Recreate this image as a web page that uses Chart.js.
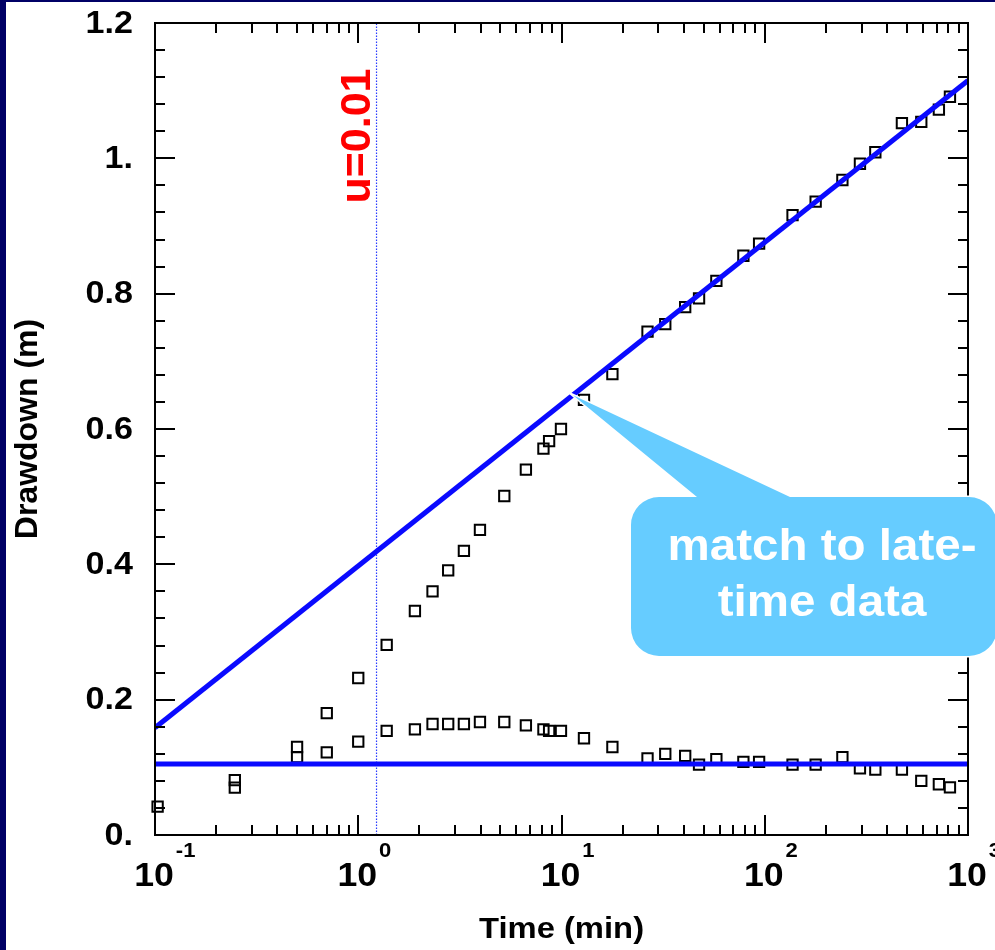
<!DOCTYPE html>
<html>
<head>
<meta charset="utf-8">
<script src="https://cdn.jsdelivr.net/npm/chart.js@4.4.1/dist/chart.umd.min.js"></script>
<style>
  html, body { margin: 0; padding: 0; background: #ffffff; }
  canvas { display: block; }
</style>
</head>
<body>
<canvas id="chart" width="995" height="950"></canvas>
<script>
// Pumping-test record: observed drawdown and its log-time derivative (m)
const times = [0.103, 0.247, 0.5, 0.7, 1.0, 1.38, 1.9, 2.32, 2.77, 3.31, 3.97, 5.23, 6.68, 8.15, 8.69, 9.94,
  12.9, 17.8, 26.5, 32.4, 40.6, 47.5, 57.8, 78.5, 93.8, 137, 178, 241, 294, 350, 473, 589, 719, 815];
const drawdown = [0.042, 0.081, 0.130, 0.180, 0.232, 0.281, 0.331, 0.360, 0.391, 0.420, 0.451, 0.501, 0.540, 0.571, 0.582, 0.600,
  0.643, 0.681, 0.744, 0.755, 0.780, 0.793, 0.819, 0.856, 0.874, 0.916, 0.936, 0.968, 0.992, 1.009, 1.052, 1.054, 1.072, 1.091];
const derivative = [null, 0.070, 0.115, 0.122, 0.138, 0.154, 0.156, 0.164, 0.164, 0.164, 0.167, 0.167, 0.162, 0.156, 0.154, 0.154,
  0.143, 0.130, 0.113, 0.120, 0.117, 0.104, 0.112, 0.108, 0.108, 0.104, 0.104, 0.115, 0.0985, 0.0965, 0.0965, 0.080, 0.075, 0.0705];

// Cooper-Jacob straight line and its constant derivative
const fitTimes = [0.1, 1000];
const fitDrawdown = [0.1585, 1.115];
const fitDerivative = [0.105, 0.105];

// Time at which u = 0.01
const markerTime = 1.23;
const markerLabel = 'u=0.01';

// Axis ticks and labels
const yTickValues = [0, 0.2, 0.4, 0.6, 0.8, 1.0, 1.2];
const yTickLabels = ['0.', '0.2', '0.4', '0.6', '0.8', '1.', '1.2'];
const xDecades = [0.1, 1, 10, 100, 1000];
const xExponents = ['-1', '0', '1', '2', '3'];
const xTitle = 'Time (min)';
const yTitle = 'Drawdown (m)';

// Callout
const calloutLines = ['match to late-', 'time data'];
const calloutTarget = { x: 11.4, y: 0.650 };

const toPoints = (xs, ys) => xs.map((x, i) => ({ x: x, y: ys[i] })).filter(p => p.y !== null);

const FONT = '"Liberation Sans", Arial, Helvetica, sans-serif';

function wideText(ctx, text, x, y, font, align, sx, color) {
  ctx.save();
  ctx.font = font;
  ctx.fillStyle = color || '#000';
  ctx.textAlign = align;
  ctx.translate(x, y);
  ctx.scale(sx, 1);
  ctx.fillText(text, 0, 0);
  ctx.restore();
}

const pagePlugin = {
  id: 'page',
  beforeDraw(chart) {
    const ctx = chart.ctx;
    ctx.save();
    ctx.fillStyle = '#ffffff';
    ctx.fillRect(0, 0, chart.width, chart.height);
    ctx.fillStyle = '#000066';
    ctx.fillRect(0, 0, 6, chart.height);
    ctx.fillRect(0, 0, chart.width, 2);
    ctx.restore();
  }
};

const framePlugin = {
  id: 'frame',
  afterDatasetsDraw(chart) {
    const ctx = chart.ctx;
    const xs = chart.scales.x, ys = chart.scales.y;
    const a = chart.chartArea;
    ctx.save();
    ctx.strokeStyle = '#000';
    ctx.lineWidth = 2;
    ctx.lineCap = 'butt';
    ctx.beginPath();
    // log-axis ticks, bottom and top
    for (let d = 0; d < xDecades.length; d++) {
      const base = xDecades[d];
      for (let k = 1; k <= 9; k++) {
        const v = base * k;
        if (v > xs.max * 1.0001) break;
        const px = Math.round(xs.getPixelForValue(v));
        const len = k === 1 ? 20 : 10;
        ctx.moveTo(px, a.bottom); ctx.lineTo(px, a.bottom - len);
        ctx.moveTo(px, a.top); ctx.lineTo(px, a.top + len);
      }
    }
    // linear-axis ticks, left and right
    for (let i = 0; i <= 30; i++) {
      const v = i * 0.04;
      const py = Math.round(ys.getPixelForValue(v));
      const len = i % 5 === 0 ? 20 : 10;
      ctx.moveTo(a.left, py); ctx.lineTo(a.left + len, py);
      ctx.moveTo(a.right, py); ctx.lineTo(a.right - len, py);
    }
    ctx.stroke();
    ctx.strokeRect(a.left, a.top, a.right - a.left, a.bottom - a.top);
    ctx.restore();

    // y tick labels
    ctx.save();
    ctx.textBaseline = 'middle';
    yTickValues.forEach((v, i) => {
      wideText(ctx, yTickLabels[i], 133, ys.getPixelForValue(v) + 1, 'bold 31px ' + FONT, 'right', 1.1);
    });
    ctx.restore();

    // x tick labels: 10 with exponent
    ctx.save();
    ctx.textBaseline = 'alphabetic';
    xDecades.forEach((v, i) => {
      const px = xs.getPixelForValue(v);
      wideText(ctx, '10', px - 1, 886, 'bold 33px ' + FONT, 'center', 1.08);
      ctx.font = 'bold 33px ' + FONT;
      const w = ctx.measureText('10').width * 1.08;
      wideText(ctx, xExponents[i], px - 1 + w / 2 + 2, 857, 'bold 21px ' + FONT, 'left', 1.05);
    });
    // axis titles
    wideText(ctx, xTitle, (a.left + a.right) / 2, 938, 'bold 29px ' + FONT, 'center', 1.13);
    ctx.translate(37, (a.top + a.bottom) / 2);
    ctx.rotate(-Math.PI / 2);
    ctx.font = 'bold 32px ' + FONT;
    ctx.fillStyle = '#000';
    ctx.textAlign = 'center';
    ctx.fillText(yTitle, 0, 0);
    ctx.restore();

    // u = 0.01 label beside the marker line
    ctx.save();
    ctx.translate(xs.getPixelForValue(markerTime) - 7, 136);
    ctx.rotate(-Math.PI / 2);
    ctx.font = 'bold 43px ' + FONT;
    ctx.fillStyle = '#ff0000';
    ctx.textAlign = 'center';
    ctx.textBaseline = 'alphabetic';
    ctx.fillText(markerLabel, 0, 0);
    ctx.restore();
  },
  afterDraw(chart) {
    const ctx = chart.ctx;
    const xs = chart.scales.x, ys = chart.scales.y;
    const tipX = xs.getPixelForValue(calloutTarget.x);
    const tipY = ys.getPixelForValue(calloutTarget.y);
    const L = 631, T = 497, R = 997, B = 656, r = 28;
    const baseL = 697, baseR = 790;
    ctx.save();
    ctx.beginPath();
    ctx.moveTo(L + r, T);
    ctx.lineTo(baseL, T);
    ctx.lineTo(tipX, tipY);
    ctx.lineTo(baseR, T);
    ctx.lineTo(R - r, T);
    ctx.arcTo(R, T, R, T + r, r);
    ctx.lineTo(R, B - r);
    ctx.arcTo(R, B, R - r, B, r);
    ctx.lineTo(L + r, B);
    ctx.arcTo(L, B, L, B - r, r);
    ctx.lineTo(L, T + r);
    ctx.arcTo(L, T, L + r, T, r);
    ctx.closePath();
    ctx.strokeStyle = '#ffffff';
    ctx.lineWidth = 3;
    ctx.lineJoin = 'miter';
    ctx.stroke();
    ctx.fillStyle = '#66ccff';
    ctx.fill();
    ctx.textBaseline = 'alphabetic';
    wideText(ctx, calloutLines[0], 822, 560, 'bold 44px ' + FONT, 'center', 1.08, '#ffffff');
    wideText(ctx, calloutLines[1], 822, 616, 'bold 44px ' + FONT, 'center', 1.08, '#ffffff');
    ctx.restore();
  }
};

const blue = '#0a0aff';

new Chart(document.getElementById('chart').getContext('2d'), {
  type: 'scatter',
  data: {
    datasets: [
      {
        label: 'Cooper-Jacob fit',
        data: toPoints(fitTimes, fitDrawdown),
        showLine: true, borderColor: blue, borderWidth: 5, pointRadius: 0
      },
      {
        label: 'Fit derivative',
        data: toPoints(fitTimes, fitDerivative),
        showLine: true, borderColor: blue, borderWidth: 5, pointRadius: 0
      },
      {
        label: markerLabel,
        data: [{ x: markerTime, y: 0 }, { x: markerTime, y: 1.2 }],
        showLine: true, borderColor: '#2a3cff', borderWidth: 1.2, borderDash: [1.5, 1.5], pointRadius: 0
      },
      {
        label: 'Drawdown',
        data: toPoints(times, drawdown),
        pointStyle: 'rect', pointRadius: 7.3,
        pointBorderColor: '#000', pointBorderWidth: 2, pointBackgroundColor: 'rgba(0,0,0,0)',
        borderColor: '#000', borderWidth: 2, backgroundColor: 'rgba(0,0,0,0)',
        clip: false
      },
      {
        label: 'Derivative',
        data: toPoints(times, derivative),
        pointStyle: 'rect', pointRadius: 7.3,
        pointBorderColor: '#000', pointBorderWidth: 2, pointBackgroundColor: 'rgba(0,0,0,0)',
        borderColor: '#000', borderWidth: 2, backgroundColor: 'rgba(0,0,0,0)',
        clip: false
      }
    ]
  },
  options: {
    responsive: false,
    animation: false,
    devicePixelRatio: 1,
    events: [],
    layout: { padding: { left: 155, top: 23, right: 27, bottom: 115 } },
    plugins: { legend: { display: false }, tooltip: { enabled: false } },
    scales: {
      x: { type: 'logarithmic', min: 0.1, max: 1000, display: false },
      y: { type: 'linear', min: 0, max: 1.2, display: false }
    }
  },
  plugins: [pagePlugin, framePlugin]
});
</script>
</body>
</html>
